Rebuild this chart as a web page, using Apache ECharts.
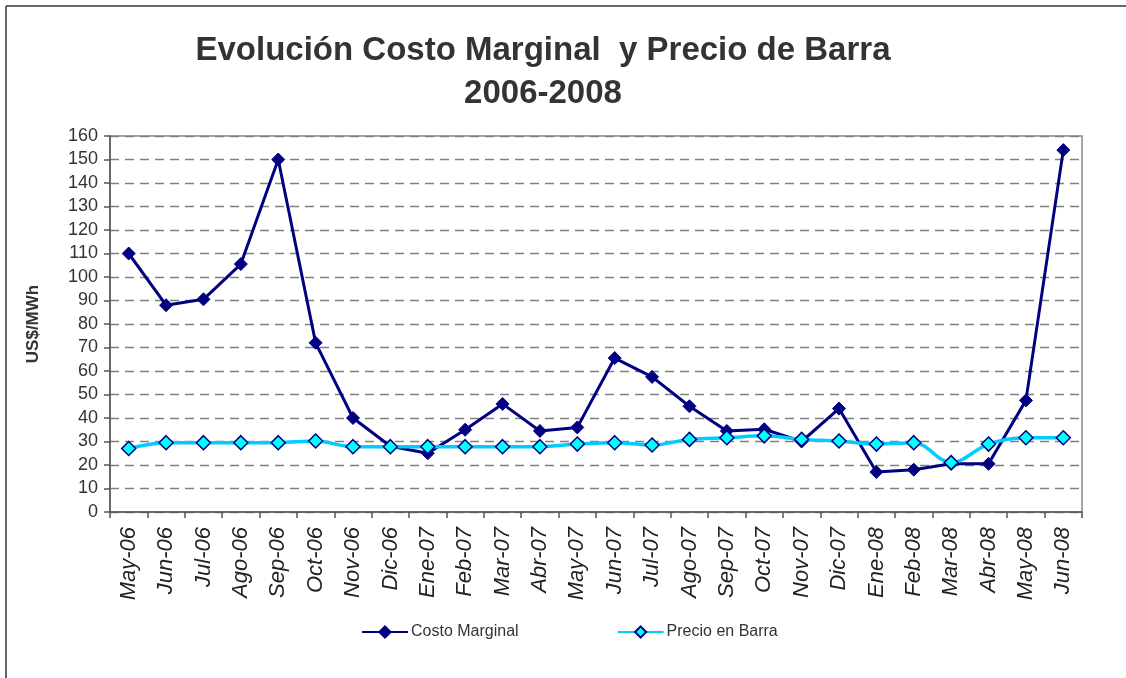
<!DOCTYPE html>
<html>
<head>
<meta charset="utf-8">
<script src="https://cdn.jsdelivr.net/npm/echarts@6/dist/echarts.min.js"></script>
<style>
html,body{margin:0;padding:0;background:#fff;}
#chart{width:1126px;height:678px;}
</style>
</head>
<body>
<div id="chart"></div>
<script>
const categories = ["May-06","Jun-06","Jul-06","Ago-06","Sep-06","Oct-06","Nov-06","Dic-06","Ene-07","Feb-07","Mar-07","Abr-07","May-07","Jun-07","Jul-07","Ago-07","Sep-07","Oct-07","Nov-07","Dic-07","Ene-08","Feb-08","Mar-08","Abr-08","May-08","Jun-08"];
const costoMarginal = [110, 88, 90.5, 105.5, 150, 72, 40, 28, 25, 35, 46, 34.5, 36, 65.5, 57.5, 45, 34.5, 35.2, 30, 44, 17, 18, 20.5, 20.5, 47.5, 154];
const precioBarra = [27, 29.5, 29.5, 29.5, 29.5, 30.2, 27.8, 27.8, 27.8, 27.8, 27.8, 27.8, 28.9, 29.5, 28.5, 30.9, 31.6, 32.4, 30.9, 30.2, 28.9, 29.5, 21, 28.9, 31.6, 31.6];
const seriesNames = ["Costo Marginal", "Precio en Barra"];
const titleText = "Evolución Costo Marginal  y Precio de Barra\n2006-2008";
const yAxisName = "US$/MWh";

const chart = echarts.init(document.getElementById('chart'), null, {renderer: 'canvas'});
const option = {
  animation: false,
  backgroundColor: '#ffffff',
  textStyle: {fontFamily: '"Liberation Sans", Arial, sans-serif'},
  title: {
    text: titleText,
    left: 538,
    textAlign: 'center',
    top: 24,
    textStyle: {fontSize: 33, fontWeight: 'bold', color: '#333333', lineHeight: 43, fontFamily: '"Liberation Sans", Arial, sans-serif'}
  },
  graphic: [
    {type: 'line', shape: {x1: 6, y1: 6, x2: 1126, y2: 6}, style: {stroke: '#333', lineWidth: 1.5}},
    {type: 'line', shape: {x1: 6, y1: 6, x2: 6, y2: 678}, style: {stroke: '#333', lineWidth: 1.5}}
  ],
  legend: {
    data: seriesNames,
    left: 356,
    top: 619,
    itemWidth: 46,
    itemHeight: 14,
    itemGap: 98,
    textStyle: {fontSize: 16, color: '#333333', padding: [0, 0, 0, -2]}
  },
  grid: {
    left: 110, right: 44, top: 136, bottom: 166,
    show: true, borderColor: '#888888', borderWidth: 1.5, backgroundColor: 'transparent'
  },
  xAxis: {
    type: 'category',
    data: categories,
    boundaryGap: true,
    axisLine: {lineStyle: {color: '#555555', width: 1.5}},
    axisTick: {show: true, length: 6, lineStyle: {color: '#555555', width: 1.5}},
    axisLabel: {rotate: 90, interval: 0, margin: 15, fontSize: 22, fontStyle: 'italic', color: '#222222'},
    splitLine: {show: false}
  },
  yAxis: {
    type: 'value',
    min: 0, max: 160, interval: 10,
    name: yAxisName,
    nameLocation: 'middle',
    nameGap: 68,
    nameRotate: 90,
    nameTextStyle: {fontSize: 17, fontWeight: 'bold', color: '#333333'},
    axisLine: {show: true, lineStyle: {color: '#555555', width: 1.5}},
    axisTick: {show: true, length: 6, lineStyle: {color: '#555555', width: 1.5}},
    axisLabel: {fontSize: 18, color: '#333333', margin: 12},
    splitLine: {show: true, lineStyle: {color: '#808080', type: [9, 6], width: 1.3}}
  },
  series: [
    {
      name: seriesNames[0],
      type: 'line',
      data: costoMarginal,
      symbol: 'diamond',
      symbolSize: 13,
      lineStyle: {color: '#000080', width: 3},
      itemStyle: {color: '#000080', borderColor: '#000080', borderWidth: 1},
      z: 2
    },
    {
      name: seriesNames[1],
      type: 'line',
      data: precioBarra,
      smooth: 0.35,
      symbol: 'diamond',
      symbolSize: 14,
      lineStyle: {color: '#00CCFF', width: 3.5},
      itemStyle: {color: '#00FFFF', borderColor: '#000080', borderWidth: 1.5},
      z: 3
    }
  ]
};
chart.setOption(option);
</script>
</body>
</html>
